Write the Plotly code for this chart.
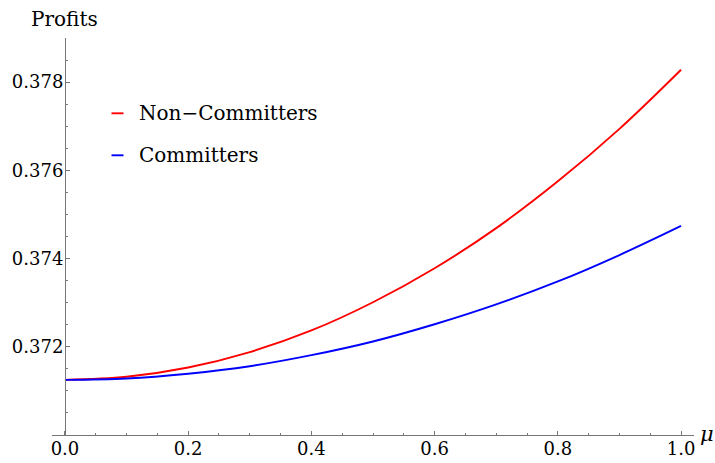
import plotly.graph_objects as go

# Profit curves against the share mu
mu = [0.0, 0.1, 0.2, 0.3, 0.4, 0.5, 0.6, 0.7, 0.8, 0.9, 1.0]
profits_non_committers = [0.37125, 0.37132, 0.37153, 0.37188, 0.37237, 0.37301,
                          0.37378, 0.37469, 0.37575, 0.37694, 0.37828]
profits_committers = [0.37125, 0.37128, 0.37139, 0.37156, 0.37181, 0.37212,
                      0.37251, 0.37296, 0.37348, 0.37408, 0.37474]

x_ticks = [0.0, 0.2, 0.4, 0.6, 0.8, 1.0]
x_tick_labels = ["0.0", "0.2", "0.4", "0.6", "0.8", "1.0"]
y_ticks = [0.372, 0.374, 0.376, 0.378]
y_tick_labels = ["0.372", "0.374", "0.376", "0.378"]

series_names = ["Non\u2212Committers", "Committers"]
series_colors = ["#ff0000", "#0000ff"]

FONT = "DejaVu Serif"
AXIS_GRAY = "#777777"

W, H = 715, 463
ML, MR, MT, MB = 52, 21, 38, 28
X_RANGE = [-0.021, 1.021]
Y_RANGE = [0.370, 0.379]

fig = go.Figure()
for name, ys, col in zip(series_names, [profits_non_committers, profits_committers], series_colors):
    fig.add_trace(go.Scatter(x=mu, y=ys, mode="lines", name=name,
                             line=dict(color=col, width=1.9, shape="spline"),
                             showlegend=False))

# pixel -> paper helpers for the free-floating texts and the small legend
pw = W - ML - MR
ph = H - MT - MB
def px(xp):
    return (xp - ML) / pw
def py(yp):
    return (H - MB - yp) / ph

# y axis sits at mu = 0
y_axis_pos = (0 - X_RANGE[0]) / (X_RANGE[1] - X_RANGE[0])

fig.update_layout(
    width=W, height=H,
    margin=dict(l=ML, r=MR, t=MT, b=MB, autoexpand=False),
    paper_bgcolor="white", plot_bgcolor="white",
    font=dict(family=FONT, color="black", size=18),
    xaxis=dict(range=X_RANGE, showgrid=False, zeroline=False, automargin=False,
               showline=True, linecolor=AXIS_GRAY, linewidth=1,
               tickvals=x_ticks, ticktext=x_tick_labels,
               ticks="inside", ticklen=4, tickcolor=AXIS_GRAY, tickwidth=1,
               ticklabelstandoff=-3,
               tickfont=dict(family=FONT, size=18, color="black"),
               minor=dict(tickvals=[i * 0.05 for i in range(21)], ticks="inside",
                          ticklen=2.5, tickcolor=AXIS_GRAY, tickwidth=1)),
    yaxis=dict(range=Y_RANGE, showgrid=False, zeroline=False, automargin=False,
               anchor="free", position=y_axis_pos,
               showline=True, linecolor=AXIS_GRAY, linewidth=1,
               tickvals=y_ticks, ticktext=y_tick_labels,
               ticks="inside", ticklen=4, tickcolor=AXIS_GRAY, tickwidth=1,
               ticklabelstandoff=-2,
               tickfont=dict(family=FONT, size=18, color="black"),
               minor=dict(tickvals=[0.370 + i * 0.0005 for i in range(19)], ticks="inside",
                          ticklen=2.5, tickcolor=AXIS_GRAY, tickwidth=1)),
)

# axis titles
fig.add_annotation(text="Profits", xref="paper", yref="paper", x=px(64.5), y=py(19),
                   xanchor="center", yanchor="middle", showarrow=False,
                   font=dict(family=FONT, size=20, color="black"))
fig.add_annotation(text="<i>\u03bc</i>", xref="paper", yref="paper", x=px(698), y=py(434),
                   xanchor="left", yanchor="middle", showarrow=False,
                   font=dict(family=FONT, size=21, color="black"))

# compact legend
legend_rows = [113.3, 155.3]
for name, col, yrow in zip(series_names, series_colors, legend_rows):
    fig.add_shape(type="line", xref="paper", yref="paper",
                  x0=px(111.5), x1=px(123.5), y0=py(yrow), y1=py(yrow),
                  line=dict(color=col, width=1.9))
    fig.add_annotation(text=name, xref="paper", yref="paper", x=px(136.5), y=py(yrow),
                       xanchor="left", yanchor="middle", showarrow=False,
                       font=dict(family=FONT, size=20, color="black"))

fig.write_html("out.html")
